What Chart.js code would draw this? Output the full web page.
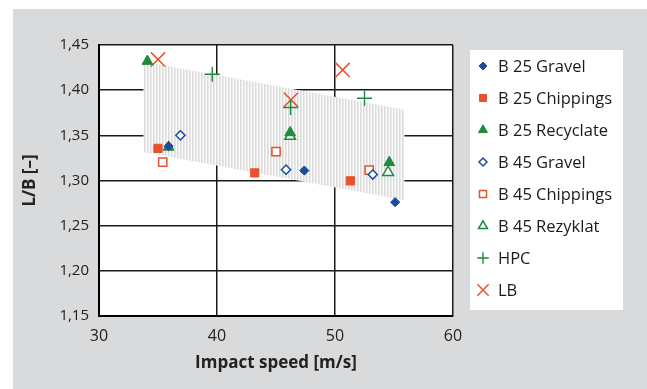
<!DOCTYPE html>
<html>
<head>
<meta charset="utf-8">
<script src="https://cdn.jsdelivr.net/npm/chart.js@4/dist/chart.umd.min.js"></script>
<style>
html,body{margin:0;padding:0;background:#ffffff;}
canvas{display:block;}
</style>
</head>
<body>
<canvas id="c" width="647" height="389"></canvas>
<script>
// ---- data ----
const xTicks = [30, 40, 50, 60];
const yTicks = [1.15, 1.20, 1.25, 1.30, 1.35, 1.40, 1.45];

const seriesLabels = ['B 25 Gravel', 'B 25 Chippings', 'B 25 Recyclate', 'B 45 Gravel', 'B 45 Chippings', 'B 45 Rezyklat', 'HPC', 'LB'];

const b25Gravel     = [{x:35.9, y:1.338}, {x:47.4, y:1.311}, {x:55.1, y:1.276}];
const b25Chippings  = [{x:35.0, y:1.3356}, {x:43.2, y:1.3084}, {x:51.3, y:1.2996}];
const b25Recyclate  = [{x:34.1, y:1.432}, {x:35.9, y:1.337}, {x:46.2, y:1.353}, {x:54.6, y:1.320}];
const b45Gravel     = [{x:36.9, y:1.350}, {x:45.85, y:1.312}, {x:53.2, y:1.3066}];
const b45Chippings  = [{x:35.4, y:1.3203}, {x:45.0, y:1.332}, {x:52.9, y:1.3114}];
const b45Rezyklat   = [{x:46.2, y:1.349}, {x:54.5, y:1.309}];
const hpc           = [{x:39.6, y:1.4177}, {x:46.24, y:1.3808}, {x:52.5, y:1.391}];
const lb            = [{x:35.0, y:1.434}, {x:46.27, y:1.3893}, {x:50.65, y:1.4224}];

const bandUpper = [{x:33.75, y:1.4316}, {x:55.9, y:1.3783}];
const bandLower = [{x:33.75, y:1.3315}, {x:55.9, y:1.278}];

// ---- styles ----
const BLUE = '#1a4d9c', RED = '#e9512c', GREEN = '#1f8a3b';

function makePattern(){
  const p = document.createElement('canvas');
  p.width = 3; p.height = 2;
  const g = p.getContext('2d');
  g.fillStyle = '#fbfbfb'; g.fillRect(0,0,3,2);
  g.fillStyle = '#d6d6d6'; g.fillRect(0,0,1,2);
  g.fillStyle = '#e9e9e9'; g.fillRect(1,0,1,2);
  g.fillStyle = '#e0e0e0'; g.fillRect(0,1,1,1);
  return document.getElementById('c').getContext('2d').createPattern(p, 'repeat');
}

const styles = [
  {pointStyle:'rectRot', radius:4.6, bg:BLUE, border:BLUE, bw:1, lr:4},
  {pointStyle:'rect', radius:5.8, bg:RED, border:RED, bw:1, lr:5},
  {pointStyle:'triangle', radius:6.2, bg:GREEN, border:GREEN, bw:1, lr:5.2},
  {pointStyle:'rectRot', radius:4.6, bg:'#ffffff', border:BLUE, bw:1.5, lr:4},
  {pointStyle:'rect', radius:5.8, bg:'#ffffff', border:RED, bw:1.5, lr:5},
  {pointStyle:'triangle', radius:6.2, bg:'#ffffff', border:GREEN, bw:1.5, lr:5.2},
  {pointStyle:'cross', radius:7.5, bg:GREEN, border:GREEN, bw:1.4, lr:5.8},
  {pointStyle:'crossRot', radius:10, bg:RED, border:RED, bw:1.5, lr:8}
];
const seriesData = [b25Gravel, b25Chippings, b25Recyclate, b45Gravel, b45Chippings, b45Rezyklat, hpc, lb];

const datasets = seriesData.map((d, i) => ({
  label: seriesLabels[i],
  data: d,
  showLine: false,
  pointStyle: styles[i].pointStyle,
  pointRadius: styles[i].radius,
  pointBackgroundColor: styles[i].bg,
  pointBorderColor: styles[i].border,
  pointBorderWidth: styles[i].bw,
  pointHoverRadius: styles[i].radius
}));

datasets.push({
  label: 'bandUpper', data: bandUpper, showLine: true, pointRadius: 0, borderWidth: 0,
  borderColor: 'rgba(0,0,0,0)', backgroundColor: makePattern(), fill: '+1', tension: 0
});
datasets.push({
  label: 'bandLower', data: bandLower, showLine: true, pointRadius: 0, borderWidth: 0,
  borderColor: 'rgba(0,0,0,0)', fill: false, tension: 0
});

const FONT = "'Open Sans', 'DejaVu Sans', sans-serif";

const bgPlugin = {
  id: 'bg',
  beforeDraw(chart){
    const ctx = chart.ctx, a = chart.chartArea;
    ctx.save();
    ctx.fillStyle = '#d9dadc';
    ctx.fillRect(13, 9, chart.width - 13, chart.height - 9);
    ctx.fillStyle = '#ffffff';
    ctx.fillRect(a.left, a.top, a.right - a.left, a.bottom - a.top);
    ctx.restore();
  }
};

const legendPlugin = {
  id: 'customLegend',
  afterDraw(chart){
    const ctx = chart.ctx;
    ctx.save();
    ctx.fillStyle = '#ffffff';
    ctx.fillRect(470, 50, 153, 260);
    ctx.font = "16.5px " + FONT;
    ctx.textBaseline = 'middle';
    ctx.textAlign = 'left';
    for (let i = 0; i < seriesLabels.length; i++){
      const y = 66 + i * 32;
      const s = styles[i];
      ctx.fillStyle = s.bg;
      ctx.strokeStyle = s.border;
      ctx.lineWidth = s.bw;
      Chart.helpers.drawPoint(ctx, {pointStyle: s.pointStyle, radius: s.lr, rotation: 0, borderWidth: s.bw}, 483, y);
      ctx.fillStyle = '#1a1a1a';
      ctx.fillText(seriesLabels[i], 498, y + 1);
    }
    ctx.restore();
  }
};

new Chart(document.getElementById('c'), {
  type: 'scatter',
  data: { datasets },
  plugins: [bgPlugin, legendPlugin],
  options: {
    responsive: false,
    animation: false,
    devicePixelRatio: 1,
    layout: { padding: { left: 0, top: 45, right: 194, bottom: 0 } },
    plugins: { legend: { display: false }, tooltip: { enabled: false }, filler: { drawTime: 'beforeDatasetsDraw' } },
    scales: {
      x: {
        type: 'linear', min: 30, max: 60, z: 1,
        afterBuildTicks(s){ s.ticks = xTicks.map(v => ({value: v})); },
        afterFit(s){ s.height = 73; },
        ticks: { color: '#222', font: { family: FONT, size: 16 }, padding: 11, callback: v => String(v) },
        grid: { color: '#1a1a1a', lineWidth: 1.5, drawTicks: false },
        border: { color: '#000', width: 2 },
        title: { display: true, text: 'Impact speed [m/s]', color: '#222', font: { family: FONT, size: 17, weight: 'bold' }, padding: { top: 2, bottom: 16 } }
      },
      y: {
        type: 'linear', min: 1.15, max: 1.45, z: 1,
        afterBuildTicks(s){ s.ticks = yTicks.map(v => ({value: v})); },
        afterFit(s){ s.width = 99; },
        ticks: { color: '#222', font: { family: FONT, size: 15 }, padding: 10, callback: v => v.toFixed(2).replace('.', ',') },
        grid: { color: '#1a1a1a', lineWidth: 1.5, drawTicks: false },
        border: { color: '#000', width: 2 },
        title: { display: true, text: 'L/B [–]', color: '#222', font: { family: FONT, size: 17, weight: 'bold' }, padding: { top: 20, bottom: 0 } }
      }
    }
  }
});
</script>
</body>
</html>
